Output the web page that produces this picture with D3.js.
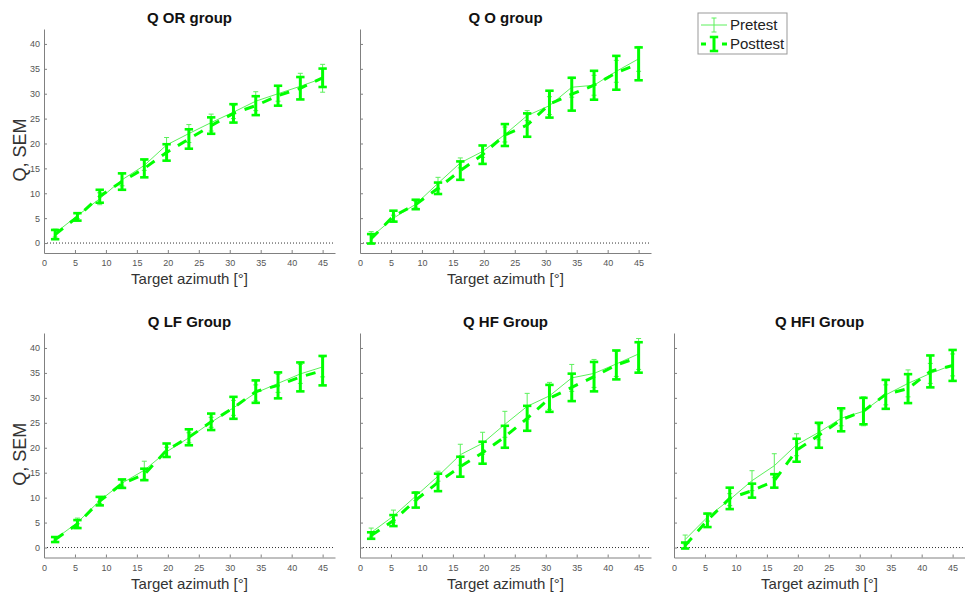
<!DOCTYPE html>
<html>
<head>
<meta charset="utf-8">
<script src="https://cdn.jsdelivr.net/npm/d3@7"></script>
<style>
  body { margin: 0; background: #fff; }
  svg { display: block; font-family: Arial, "Liberation Sans", sans-serif; }
</style>
</head>
<body>
<svg id="chart" width="965" height="599"></svg>
<script>
// Target azimuths (degrees) shared by every group
const azimuths = [1.8, 5.4, 9, 12.6, 16.2, 19.8, 23.4, 27, 30.6, 34.2, 37.8, 41.4, 45];
const xTicks = [0, 5, 10, 15, 20, 25, 30, 35, 40, 45];
const yTicks = [0, 5, 10, 15, 20, 25, 30, 35, 40];

const groupTitles = ["Q OR group", "Q O group", "Q LF Group", "Q HF Group", "Q HFI Group"];
const seriesNames = ["Pretest", "Posttest"];

// Q OR group
const orPre      = [2.0, 5.5, 8.9, 12.7, 15.6, 19.7, 22.0, 24.2, 26.3, 28.5, 30.0, 31.5, 33.1];
const orPreSem   = [0.8, 0.6, 1.2, 1.2, 1.0, 1.5, 1.8, 1.7, 1.3, 1.9, 1.5, 2.6, 2.8];
const orPost     = [1.7, 5.25, 9.4, 12.35, 15.0, 18.2, 20.9, 23.6, 26.05, 27.6, 29.6, 31.1, 33.2];
const orPostSem  = [0.93, 0.75, 1.3, 1.65, 1.8, 1.65, 1.95, 1.65, 1.85, 1.9, 2.0, 2.25, 1.85];

// Q O group
const oPre       = [1.2, 5.0, 7.8, 12.0, 16.1, 18.4, 21.8, 25.6, 27.6, 31.3, 31.7, 34.5, 37.0];
const oPreSem    = [1.1, 0.6, 0.6, 1.2, 1.0, 1.2, 1.5, 1.0, 1.8, 2.0, 2.0, 2.2, 2.5];
const oPost      = [0.85, 5.4, 7.75, 11.0, 14.55, 17.75, 21.7, 23.7, 27.9, 29.9, 31.7, 34.2, 36.0];
const oPostSem   = [0.95, 1.1, 0.95, 1.15, 1.85, 1.85, 2.2, 2.35, 2.7, 3.3, 2.9, 3.4, 3.3];

// Q LF Group
const lfPre      = [1.7, 5.0, 9.4, 12.9, 15.5, 19.2, 22.0, 25.1, 28.0, 31.0, 32.9, 34.8, 36.2];
const lfPreSem   = [0.4, 0.9, 0.6, 0.6, 1.8, 0.9, 1.0, 1.0, 1.5, 1.6, 1.8, 1.9, 2.0];
const lfPost     = [1.6, 4.7, 9.3, 12.8, 14.65, 19.5, 22.1, 25.2, 28.0, 31.25, 32.5, 34.2, 35.45];
const lfPostSem  = [0.5, 0.8, 0.85, 0.85, 1.15, 1.35, 1.6, 1.65, 2.2, 2.25, 2.6, 2.9, 2.95];

// Q HF Group
const hfPre      = [3.0, 6.3, 10.3, 14.3, 18.6, 20.9, 24.7, 28.3, 30.4, 34.0, 34.9, 36.8, 38.8];
const hfPreSem   = [0.9, 1.2, 0.9, 1.0, 2.1, 2.2, 2.6, 2.6, 2.7, 2.7, 2.8, 2.5, 3.1];
const hfPost     = [2.4, 5.4, 9.5, 13.05, 16.2, 19.0, 22.2, 25.9, 29.9, 32.1, 34.25, 36.6, 38.1];
const hfPostSem  = [0.65, 1.1, 1.5, 1.75, 2.0, 2.2, 2.2, 2.5, 2.7, 2.75, 2.95, 2.9, 3.05];

// Q HFI Group
const hfiPre     = [1.6, 6.1, 9.6, 13.4, 16.4, 20.6, 23.1, 25.9, 27.3, 30.6, 32.9, 34.9, 36.6];
const hfiPreSem  = [0.9, 0.8, 1.2, 2.0, 2.4, 2.2, 1.5, 1.5, 2.9, 2.0, 2.7, 2.0, 2.2];
const hfiPost    = [0.4, 5.45, 9.85, 11.4, 13.35, 19.5, 22.5, 25.6, 27.35, 30.7, 31.85, 35.3, 36.5];
const hfiPostSem = [0.6, 1.35, 2.15, 1.4, 1.35, 2.3, 2.5, 2.3, 2.65, 2.9, 2.9, 3.2, 3.1];

const groups = [
  { pre: orPre,  preSem: orPreSem,  post: orPost,  postSem: orPostSem },
  { pre: oPre,   preSem: oPreSem,   post: oPost,   postSem: oPostSem },
  { pre: lfPre,  preSem: lfPreSem,  post: lfPost,  postSem: lfPostSem },
  { pre: hfPre,  preSem: hfPreSem,  post: hfPost,  postSem: hfPostSem },
  { pre: hfiPre, preSem: hfiPreSem, post: hfiPost, postSem: hfiPostSem }
];

// Axes boxes on the page (2 rows x 3 columns, top-right slot holds the legend)
const frames = [
  { x0: 44,  x1: 335, y0: 29,  y1: 253,   yLabels: true },
  { x0: 360, x1: 651, y0: 29,  y1: 253,   yLabels: false },
  { x0: 44,  x1: 335, y0: 333, y1: 557.5, yLabels: true },
  { x0: 360, x1: 651, y0: 333, y1: 557.5, yLabels: false },
  { x0: 674, x1: 965, y0: 333, y1: 557.5, yLabels: false }
];

const preStyle  = { color: "#5cf05c", width: 1,   capHalf: 2.5, capWidth: 1 };
const postStyle = { color: "#00ff00", width: 3,   capHalf: 4.2, capWidth: 2.6 };
const axisColor = "#808080";

const svg = d3.select("#chart");

function drawErrorBars(g, x, y, means, sems, st) {
  const bars = g.append("g");
  azimuths.forEach((a, i) => {
    const cx = x(a), top = y(means[i] + sems[i]), bot = y(means[i] - sems[i]);
    bars.append("line").attr("x1", cx).attr("x2", cx).attr("y1", top).attr("y2", bot)
      .attr("stroke", st.color).attr("stroke-width", st.width);
    [top, bot].forEach(yy => {
      bars.append("line").attr("x1", cx - st.capHalf).attr("x2", cx + st.capHalf)
        .attr("y1", yy).attr("y2", yy)
        .attr("stroke", st.color).attr("stroke-width", st.capWidth);
    });
  });
}

groups.forEach((grp, k) => {
  const f = frames[k];
  const x = d3.scaleLinear().domain([0, 47]).range([f.x0, f.x1]);
  const y = d3.scaleLinear().domain([-2, 43]).range([f.y1, f.y0]);
  const g = svg.append("g");

  // zero reference
  g.append("line").attr("x1", f.x0).attr("x2", f.x1).attr("y1", y(0)).attr("y2", y(0))
    .attr("stroke", "#333").attr("stroke-width", 1).attr("stroke-dasharray", "1,2");

  const xAxis = g.append("g").attr("transform", `translate(0,${f.y1})`)
    .call(d3.axisBottom(x).tickValues(xTicks).tickSizeInner(-3).tickSizeOuter(0).tickPadding(7));
  const yAxis = g.append("g").attr("transform", `translate(${f.x0},0)`)
    .call(d3.axisLeft(y).tickValues(yTicks).tickSizeInner(-3).tickSizeOuter(0).tickPadding(4)
      .tickFormat(f.yLabels ? d3.format("d") : () => ""));
  [xAxis, yAxis].forEach(ax => {
    ax.select(".domain").attr("stroke", axisColor);
    ax.selectAll(".tick line").attr("stroke", axisColor);
    ax.selectAll(".tick text").attr("fill", "#555").style("font-size", "9px")
      .style("font-family", "Arial, 'Liberation Sans', sans-serif");
  });

  const line = d3.line().x((d, i) => x(azimuths[i])).y(d => y(d));

  // Pretest: thin solid line with thin error bars
  g.append("path").datum(grp.pre).attr("d", line).attr("fill", "none")
    .attr("stroke", preStyle.color).attr("stroke-width", preStyle.width);
  drawErrorBars(g, x, y, grp.pre, grp.preSem, preStyle);

  // Posttest: thick dashed line with heavy error bars
  g.append("path").datum(grp.post).attr("d", line).attr("fill", "none")
    .attr("stroke", postStyle.color).attr("stroke-width", postStyle.width)
    .attr("stroke-dasharray", "10,9");
  drawErrorBars(g, x, y, grp.post, grp.postSem, postStyle);

  // titles and axis labels
  const cx = (f.x0 + f.x1) / 2;
  g.append("text").attr("x", cx).attr("y", f.y0 - 6).attr("text-anchor", "middle")
    .style("font-size", "15px").style("font-weight", "bold").attr("fill", "#111")
    .text(groupTitles[k]);
  g.append("text").attr("x", cx).attr("y", f.y1 + 31).attr("text-anchor", "middle")
    .style("font-size", "15px").attr("fill", "#333").text("Target azimuth [°]");
  if (f.yLabels) {
    const ly = (f.y0 + f.y1) / 2 + 9;
    g.append("text").attr("transform", `translate(26,${ly}) rotate(-90)`)
      .attr("text-anchor", "middle").style("font-size", "18px").attr("fill", "#333")
      .text("Q, SEM");
  }
});

// Legend
const lg = svg.append("g");
lg.append("rect").attr("x", 698).attr("y", 13).attr("width", 89).attr("height", 41)
  .attr("fill", "#fff").attr("stroke", "#999").attr("stroke-width", 1);
[preStyle, postStyle].forEach((st, i) => {
  const yy = 25 + i * 19, cx = 714;
  const seg = lg.append("line").attr("x1", 701).attr("x2", 727).attr("y1", yy).attr("y2", yy)
    .attr("stroke", st.color).attr("stroke-width", st.width);
  if (i === 1) seg.attr("stroke-dasharray", "5,16,5");
  const h = 7;
  lg.append("line").attr("x1", cx).attr("x2", cx).attr("y1", yy - h).attr("y2", yy + h)
    .attr("stroke", st.color).attr("stroke-width", st.width);
  [yy - h, yy + h].forEach(v => lg.append("line").attr("x1", cx - st.capHalf).attr("x2", cx + st.capHalf)
    .attr("y1", v).attr("y2", v).attr("stroke", st.color).attr("stroke-width", st.capWidth));
  lg.append("text").attr("x", 730).attr("y", yy + 5).style("font-size", "15px").attr("fill", "#222")
    .text(seriesNames[i]);
});
</script>
</body>
</html>
